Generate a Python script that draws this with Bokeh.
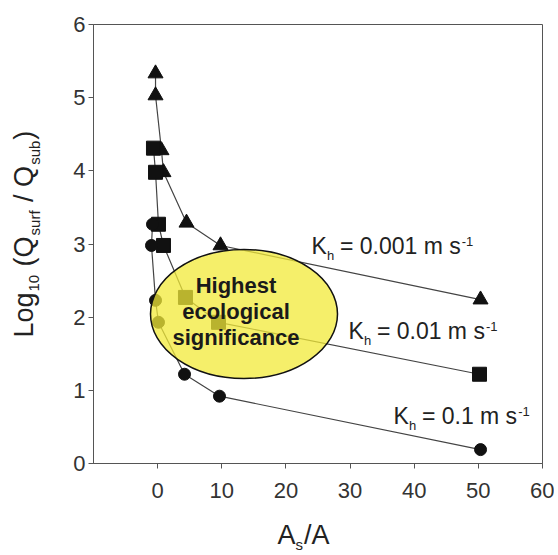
import math
from bokeh.plotting import figure
from bokeh.models import Label, FixedTicker, Range1d
from bokeh.layouts import row, column
from bokeh.embed import file_html
from bokeh.resources import INLINE

# ---------------- data ----------------
kh_0001_x = [-0.33, -0.33, 0.60, 0.91, 4.50, 9.80, 50.34]
kh_0001_y = [5.33, 5.03, 4.28, 3.98, 3.29, 2.98, 2.24]
kh_001_x = [-0.65, -0.33, 0.13, 0.91, 4.34, 9.49, 50.18]
kh_001_y = [4.31, 3.98, 3.27, 2.98, 2.27, 1.93, 1.22]
kh_01_x = [-0.80, -0.96, -0.33, 0.13, 4.19, 9.64, 50.34]
kh_01_y = [3.27, 2.98, 2.23, 1.93, 1.22, 0.92, 0.19]
x_ticks = [0, 10, 20, 30, 40, 50, 60]
y_ticks = [0, 1, 2, 3, 4, 5, 6]
kh_values = ["0.001", "0.01", "0.1"]
ellipse_lines = ["Highest", "ecological", "significance"]

# ---------------- layout helpers ----------------
FONT = "Liberation Sans"
NB = "\u00a0"
X0, X1, Y0, Y1 = -10, 60, 0, 6
YL_W = 60                          # width of the y-label strip
FL, FT, FW, FH = 93, 24, 449, 439  # frame position on the page
TOP_H = 513                        # height of the chart row
TOTAL_W = 554
BASE_FIX = 0.42                    # baseline correction (fraction of font size)


def dx(px):
    return X0 + (px - FL) / FW * (X1 - X0)


def dy(py):
    return Y0 + (FT + FH - py) / FH * (Y1 - Y0)


W = {'K': .667, 'h': .556, ' ': .278, NB: .278, '=': .584, '0': .556, '1': .556,
     '.': .278, 'm': .833, 's': .5, '-': .333, 'L': .556, 'o': .556, 'g': .556,
     '(': .333, ')': .333, 'Q': .778, 'u': .556, 'r': .333, 'f': .278, '/': .278,
     'b': .556, 'A': .667}


def tw(t, size):
    return sum(W.get(c, .556) for c in t) * size


def lab(fig, x, y, t, size, xo=0, yo=0, angle=0, color="#222222", style="normal",
        align="left"):
    fix = BASE_FIX * size
    if angle:
        xo -= fix
    else:
        yo += fix
    fig.add_layout(Label(x=x, y=y, text=t, x_offset=xo, y_offset=yo, angle=angle,
                         text_font=FONT, text_font_size=f"{size}px",
                         text_font_style=style, text_color=color, text_align=align,
                         text_baseline="alphabetic"))


def text_fig(w, h):
    f = figure(width=w, height=h, x_range=Range1d(0, w), y_range=Range1d(h, 0),
               x_axis_type=None, y_axis_type=None, min_border=0,
               output_backend="svg", toolbar_location=None)
    f.outline_line_color = None
    f.grid.visible = False
    return f


# ---------------- main chart ----------------
p = figure(x_range=(X0, X1), y_range=(Y0, Y1),
           width=TOTAL_W - YL_W, height=TOP_H,
           min_border_left=FL - YL_W, min_border_top=FT,
           min_border_right=TOTAL_W - FL - FW, min_border_bottom=TOP_H - FT - FH,
           output_backend="svg", toolbar_location=None,
           background_fill_color="white", border_fill_color="white")
p.grid.visible = False
p.outline_line_color = "#555555"
p.outline_line_width = 1

for ax in (p.xaxis[0], p.yaxis[0]):
    ax.axis_line_color = "#555555"
    ax.major_tick_line_color = "#555555"
    ax.minor_tick_line_color = None
    ax.major_tick_in = 0
    ax.major_tick_out = 5
    ax.major_label_text_font = FONT
    ax.major_label_text_font_size = "22px"
    ax.major_label_text_color = "#333333"
    ax.axis_label = None
p.xaxis[0].ticker = FixedTicker(ticks=x_ticks)
p.yaxis[0].ticker = FixedTicker(ticks=y_ticks)
p.xaxis[0].major_label_standoff = 14
p.yaxis[0].major_label_standoff = 3

LINE = "#444444"
MK = "#111111"
p.line(kh_0001_x, kh_0001_y, line_color=LINE, line_width=1.2)
p.line(kh_001_x, kh_001_y, line_color=LINE, line_width=1.2)
p.line(kh_01_x, kh_01_y, line_color=LINE, line_width=1.2)
p.scatter(kh_0001_x, kh_0001_y, marker="triangle", size=15, fill_color=MK, line_color=MK)
p.scatter(kh_001_x, kh_001_y, marker="square", size=14, fill_color=MK, line_color=MK)
p.scatter(kh_01_x, kh_01_y, marker="circle", size=12, fill_color=MK, line_color=MK)

# highlighted region
p.ellipse(x=[dx(243.5)], y=[dy(313.5)], width=[187 / FW * (X1 - X0)],
          height=[129 / FH * (Y1 - Y0)], fill_color="#f1e938", fill_alpha=0.75,
          line_color="#111111", line_width=1.5)
for t, by in zip(ellipse_lines, [294, 320, 346]):
    lab(p, dx(235.5), dy(by), t, 22, color="#1a1a1a", style="bold", align="center")

# K_h labels
for kv, (px, py) in zip(kh_values, [(311, 255), (348, 340), (393, 425)]):
    x, y = dx(px), dy(py)
    main = f"{NB}= {kv} m s"
    lab(p, x, y, "K", 23)
    lab(p, x, y, "h", 13, xo=15.5, yo=-5)
    lab(p, x, y, main, 23, xo=22)
    lab(p, x, y, "-1", 13, xo=22 + tw(main, 23) + 1, yo=9)

# ---------------- y axis label strip: Log10 (Qsurf / Qsub) ----------------
ylab = text_fig(YL_W, TOP_H)
pieces = [("Log", 27, 0), ("10", 15, 5), (NB + "(Q", 27, 0), ("surf", 15, 5),
          (NB + "/" + NB + "Q", 27, 0), ("sub", 15, 5), (")", 27, 0)]
adv = 0
for t, s, sh in pieces:
    lab(ylab, 35, 332, t, s, xo=sh, yo=adv - 29, angle=math.pi / 2)
    adv += tw(t, s) + 1

# ---------------- x axis label strip: As/A ----------------
XL_H = 555 - TOP_H
xlab = text_fig(TOTAL_W, XL_H)
bx, by = 277, 546 - TOP_H
lab(xlab, bx, by, "A", 27)
lab(xlab, bx, by, "s", 15, xo=tw("A", 27), yo=-4)
lab(xlab, bx, by, "/A", 27, xo=tw("A", 27) + tw("s", 15) + 1)

layout = column(row(ylab, p, spacing=0), xlab, spacing=0)
open("out.html", "w").write(file_html(layout, INLINE))
